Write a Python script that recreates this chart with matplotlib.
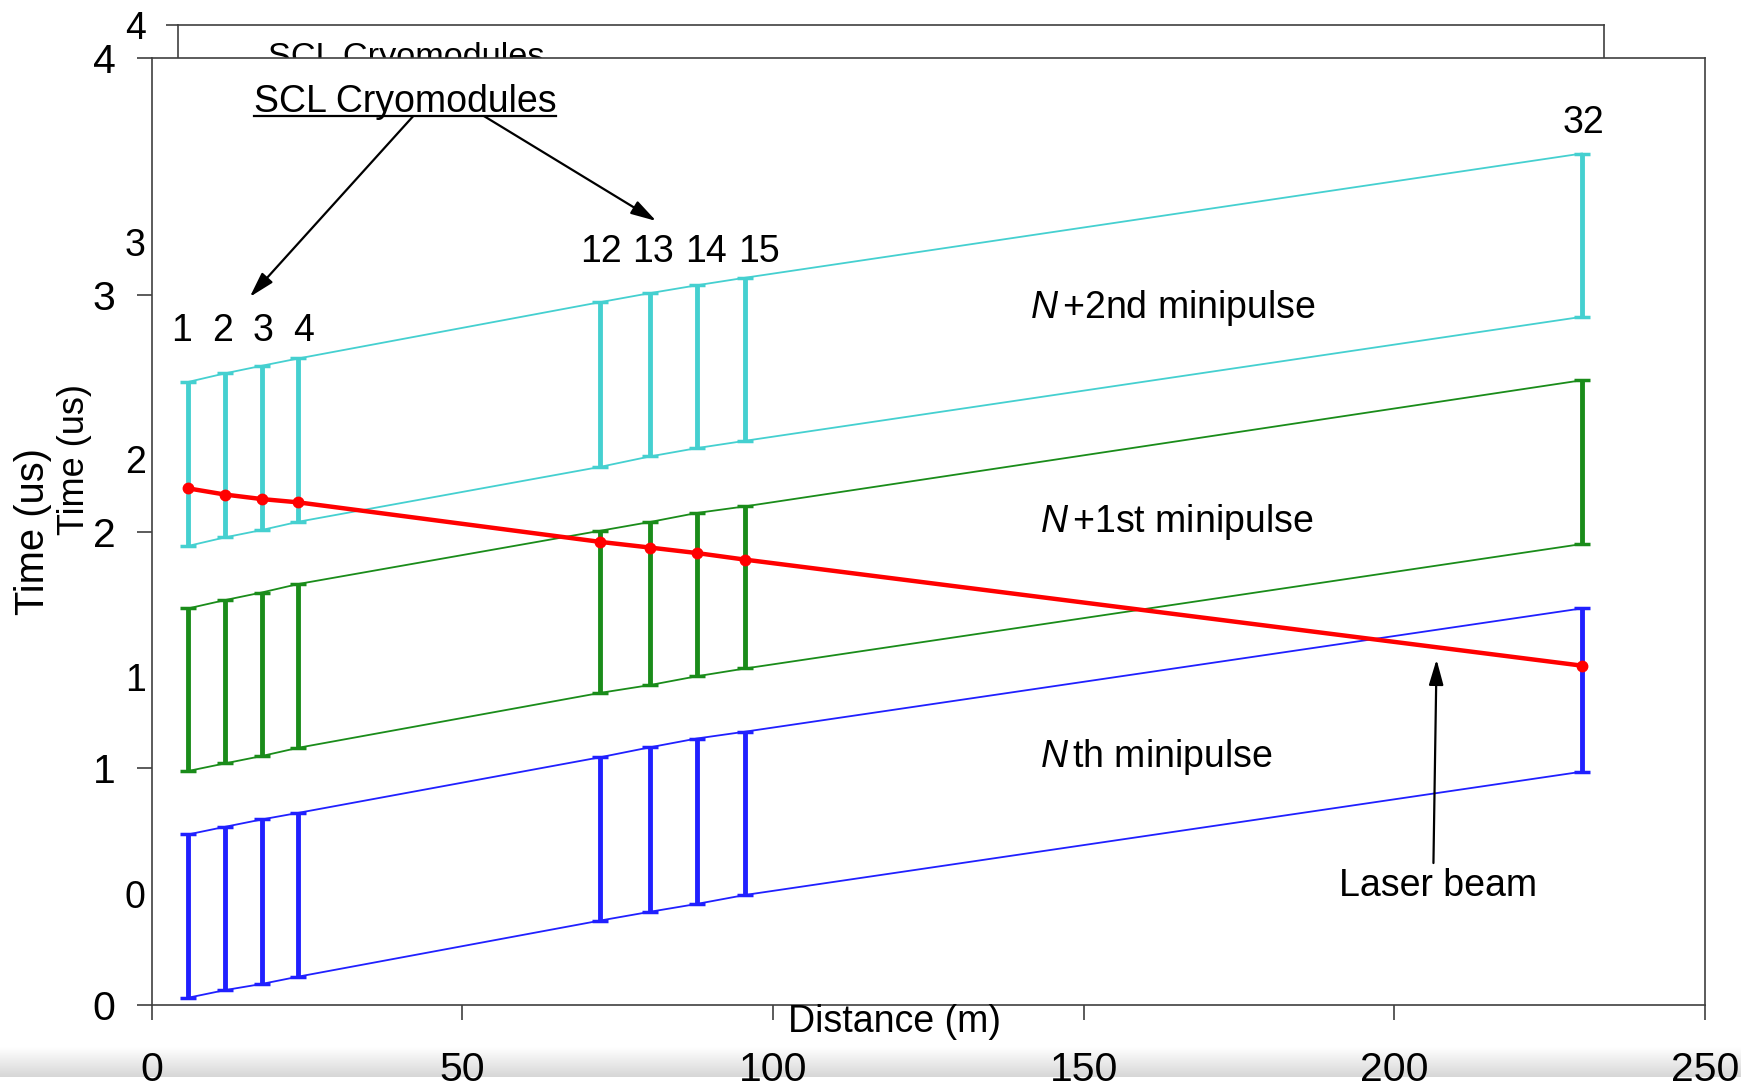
import numpy as np
import matplotlib
matplotlib.use("Agg")
import matplotlib.pyplot as plt
from matplotlib.lines import Line2D

plt.rcParams['font.family'] = ['Liberation Sans', 'DejaVu Sans']
plt.rcParams['mathtext.fontset'] = 'custom'
plt.rcParams['mathtext.rm'] = 'Liberation Sans'
plt.rcParams['mathtext.it'] = 'Liberation Sans:italic'

# cryomodule positions along the linac (m)
module_x = [5.9, 11.8, 17.7, 23.6, 72.2, 80.2, 87.7, 95.5, 230.2]
module_labels = ["1", "2", "3", "4", "12", "13", "14", "15", "32"]
label_x = [4.8, 11.4, 18.0, 24.5, 72.3, 80.7, 89.2, 97.8, 230.4]
label_y = [2.85, 2.85, 2.85, 2.85, 3.18, 3.18, 3.18, 3.18, 3.725]

# minipulse windows at each cryomodule (us)
nth_top = [0.721, 0.753, 0.784, 0.812, 1.047, 1.089, 1.126, 1.155, 1.676]
nth_bottom = [0.031, 0.063, 0.089, 0.120, 0.357, 0.394, 0.427, 0.465, 0.986]
n1_top = [1.676, 1.711, 1.743, 1.779, 2.004, 2.041, 2.079, 2.107, 2.640]
n1_bottom = [0.989, 1.021, 1.052, 1.087, 1.319, 1.352, 1.389, 1.422, 1.948]
n2_top = [2.633, 2.669, 2.701, 2.732, 2.970, 3.008, 3.041, 3.073, 3.598]
n2_bottom = [1.940, 1.976, 2.007, 2.042, 2.274, 2.318, 2.353, 2.384, 2.908]

# laser arrival time at each cryomodule (us)
laser = [2.183, 2.157, 2.138, 2.124, 1.957, 1.933, 1.910, 1.882, 1.434]

x_ticks = [0, 50, 100, 150, 200, 250]
y_ticks = [0, 1, 2, 3, 4]

spine_col = '#404040'

fig = plt.figure(figsize=(17.41, 10.89), dpi=100)

# grey strip along the bottom edge
ax_strip = fig.add_axes([0, 1 - 1077 / 1089, 1, 30 / 1089], zorder=0)
ax_strip.imshow(np.linspace(1.0, 0.84, 60).reshape(-1, 1), cmap='gray',
                vmin=0, vmax=1, aspect='auto', extent=[0, 1, 0, 1])
ax_strip.axis('off')

# older copy of the frame sitting behind the main plot
ax_bg = fig.add_axes([0.1021, 0.1791, 0.8192, 0.7980], zorder=1)
ax_bg.set_xlim(0, 250)
ax_bg.set_ylim(0, 4)
ax_bg.set_xticks([])
ax_bg.set_yticks(y_ticks)
ax_bg.set_yticklabels([str(t) for t in y_ticks])
ax_bg.tick_params(axis='y', direction='out', length=9, width=1.2, pad=14,
                  labelsize=27, color=spine_col)
for s in ax_bg.spines.values():
    s.set_color(spine_col)
    s.set_linewidth(1.2)
ax_bg.set_ylabel("Time (us)", fontsize=26)
ax_bg.yaxis.set_label_coords(-0.060, 0.5)
ax_bg.text(40.0, 3.81, "SCL Cryomodules", fontsize=24.7, ha='center',
           va='baseline', clip_on=False)

# main plot
ax = fig.add_axes([0.0871, 0.0771, 0.8922, 0.8693], zorder=2)
ax.set_facecolor('white')
ax.set_xlim(0, 250)
ax.set_ylim(0, 4)
ax.set_xticks(x_ticks)
ax.set_yticks(y_ticks)
ax.tick_params(axis='both', direction='out', length=10.5, width=1.2,
               labelsize=29.5, color=spine_col)
ax.tick_params(axis='y', pad=15.6)
ax.tick_params(axis='x', pad=22.5)
for s in ax.spines.values():
    s.set_color(spine_col)
    s.set_linewidth(1.2)
ax.set_ylabel("Time (us)", fontsize=28.7)
ax.yaxis.set_label_coords(-0.064, 0.5)
ax.text(119.6, -0.113, "Distance (m)", fontsize=27, ha='center',
        va='baseline', clip_on=False)

bands = [
    (nth_top, nth_bottom, '#2020ff'),
    (n1_top, n1_bottom, '#1a8c1a'),
    (n2_top, n2_bottom, '#45d0d0'),
]
for top, bottom, col in bands:
    top = np.array(top)
    bottom = np.array(bottom)
    ax.errorbar(module_x, bottom, yerr=[np.zeros_like(bottom), top - bottom],
                fmt='none', ecolor=col, elinewidth=3.5, capsize=6,
                capthick=2.5, zorder=3)
    ax.plot(module_x, top, color=col, lw=1.3, zorder=3)
    ax.plot(module_x, bottom, color=col, lw=1.3, zorder=3)

ax.plot(module_x, laser, color='#ff0000', lw=3.2, marker='o', ms=7.5,
        zorder=5)

for lx, ly, lab in zip(label_x, label_y, module_labels):
    ax.text(lx, ly, lab, fontsize=27, ha='center', va='center')

ax.text(141.3, 2.904, r"$N\,$+2nd minipulse", fontsize=27, ha='left',
        va='baseline')
ax.text(142.9, 1.998, r"$N\,$+1st minipulse", fontsize=27, ha='left',
        va='baseline')
ax.text(142.9, 1.007, r"$N\,$th minipulse", fontsize=27, ha='left',
        va='baseline')
ax.text(207.0, 0.462, "Laser beam", fontsize=27, ha='center', va='baseline')

scl = ax.text(40.8, 3.773, "SCL Cryomodules", fontsize=27, ha='center',
              va='baseline')

arrow = dict(arrowstyle='-|>,head_length=0.7,head_width=0.2', color='black',
             lw=1.6, mutation_scale=22, shrinkA=0, shrinkB=0)
ax.annotate('', xy=(15.8, 2.992), xytext=(42.1, 3.756), arrowprops=arrow)
ax.annotate('', xy=(81.2, 3.313), xytext=(53.5, 3.756), arrowprops=arrow)
ax.annotate('', xy=(206.8, 1.460), xytext=(206.3, 0.600), arrowprops=arrow)

# underline the cryomodule heading
fig.canvas.draw()
bb = scl.get_window_extent(fig.canvas.get_renderer())
inv = fig.transFigure.inverted()
(x0, y0), (x1, _) = inv.transform([(bb.x0, bb.y0 + 4), (bb.x1, bb.y0 + 4)])
fig.add_artist(Line2D([x0, x1], [y0, y0], color='black', lw=1.6, zorder=10))

fig.savefig("out.png", dpi=100)
